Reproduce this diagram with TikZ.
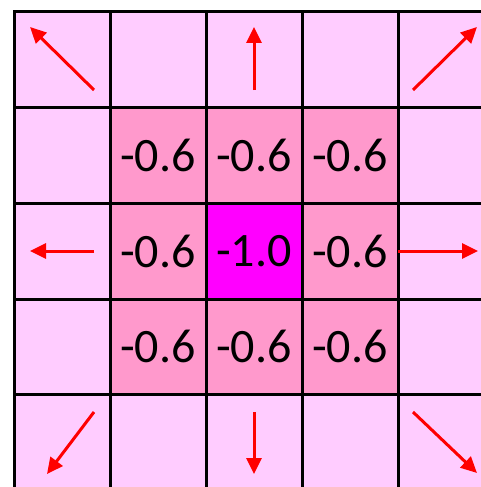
\documentclass[tikz,border=0pt]{standalone}
\usepackage{fontspec}
\setmainfont{Carlito}
\usetikzlibrary{arrows.meta,positioning}
\definecolor{cellpale}{HTML}{FFCCFF}
\definecolor{cellmid}{HTML}{FF99CC}
\definecolor{cellhot}{HTML}{FF00FF}
\definecolor{flow}{HTML}{FF0000}

\begin{document}
\begin{tikzpicture}[x=1pt,y=-1pt,>={Triangle[length=16pt,width=15pt]},
font=\fontsize{48}{50}\selectfont,
cell/.style={draw=black,line width=3pt,fill=cellpale,minimum width=96pt,minimum height=95.7pt,inner sep=0pt},
arr/.style={->,line width=3pt,draw=flow}]
\clip (0,0) rectangle (481,487);
\useasboundingbox (0,0) rectangle (481,487);
% pale outer cells
\foreach \i in {0,...,4}
  \foreach \j in {0,...,4}
    \node[cell] (c\i\j) at ({14+96*(\i+.5)},{12+95.7*(\j+.5)}) {};
% ring of -0.6 and the centre
\foreach \i/\j in {1/1,2/1,3/1,1/2,3/2,1/3,2/3,3/3}
  \node[cell,fill=cellmid] at (c\i\j) {-0.6};
\node[cell,fill=cellhot] (mid) at (c22) {-1.0};
% arrow ends
\coordinate (tl0) at (94,90);   \coordinate (tl1) at (30,27);
\coordinate (tc0) at (254,90);  \coordinate (tc1) at (254,27);
\coordinate (tr0) at (413,90);  \coordinate (tr1) at (477,27);
\coordinate (ml0) at (94,251);  \coordinate (ml1) at (30,251);
\coordinate (mr0) at (398,251); \coordinate (mr1) at (478,251);
\coordinate (bl0) at (94,412);  \coordinate (bl1) at (47,474);
\coordinate (bc0) at (254,412); \coordinate (bc1) at (254,474);
\coordinate (br0) at (413,412); \coordinate (br1) at (477,473);
\foreach \a in {tl,tc,tr,ml,mr,bl,bc,br}
  \draw[arr] (\a0) -- (\a1);
\end{tikzpicture}
\end{document}
